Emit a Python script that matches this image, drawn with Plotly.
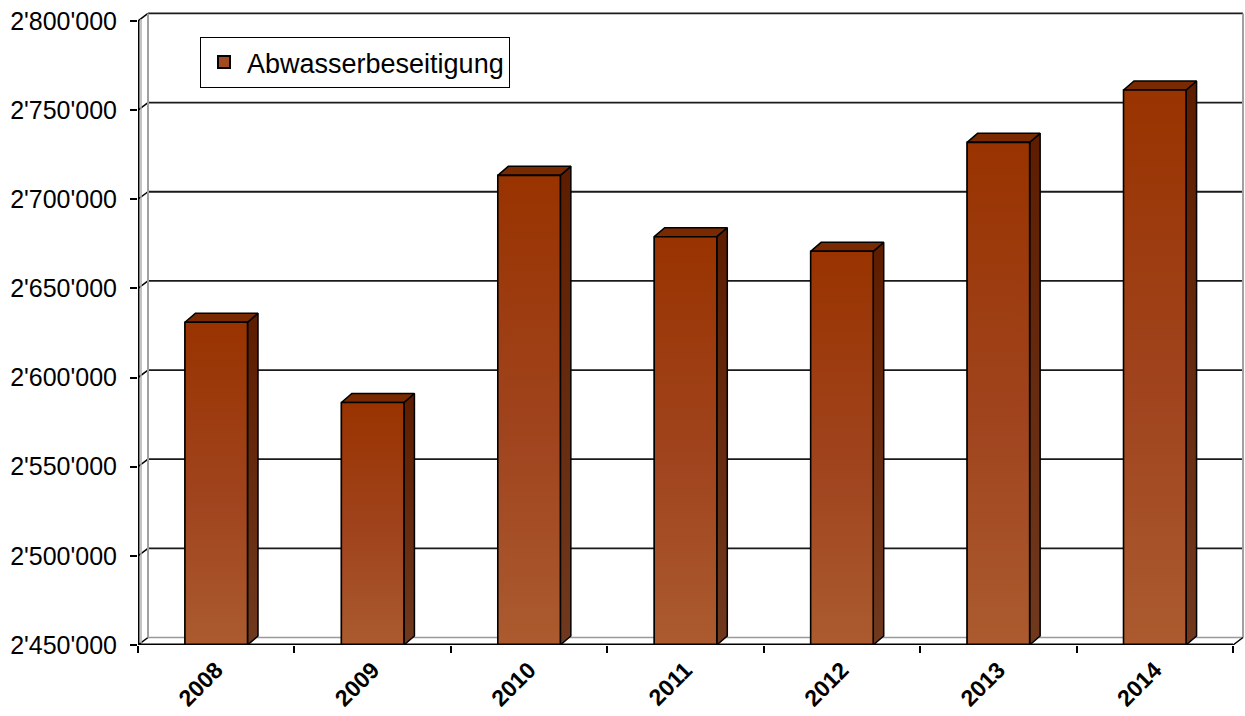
import plotly.graph_objects as go

# ---------------- data ----------------
years = ["2008", "2009", "2010", "2011", "2012", "2013", "2014"]
values = [2631000, 2586000, 2713400, 2679000, 2670800, 2731900, 2761300]
series_name = "Abwasserbeseitigung"
y_tick_values = [2450000, 2500000, 2550000, 2600000, 2650000, 2700000, 2750000, 2800000]
y_tick_labels = ["2'450'000", "2'500'000", "2'550'000", "2'600'000",
                 "2'650'000", "2'700'000", "2'750'000", "2'800'000"]

# ---------------- geometry / style ----------------
W, H = 1245, 716
M_L, M_R, M_T, M_B = 138, 0, 12, 71
Y0, YMAX = y_tick_values[0], y_tick_values[-1]
n = len(years)
idx = list(range(n))

plot_w = W - M_L - M_R
plot_h = H - M_T - M_B
px_per_x = 156.43                     # pixels per category
px_per_y = 1.783 / 1000.0             # pixels per unit value
x_lo = -0.5
x_hi = x_lo + plot_w / px_per_x
y_hi = Y0 + plot_h / px_per_y

def dx(px):
    return px / px_per_x

def dy(px):
    return px / px_per_y

WALL_DX, WALL_DY = dx(10), dy(7.5)    # 3D depth of the chart box
BAR_DX, BAR_DY = dx(10.5), dy(9)      # 3D depth of each column
BAR_W = 0.40

FONT = "Liberation Sans, Arial, sans-serif"
FRONT_SCALE = [[0.0, "#AB5B2F"], [0.45, "#A0441E"], [1.0, "#993300"]]
SIDE_SCALE = [[0.0, "#70391E"], [1.0, "#5E1D00"]]
TOP_COLOR = "#7A2A00"

fig = go.Figure()

# legend / base bar trace (covered by the shaded faces drawn on top)
fig.add_trace(go.Bar(
    x=idx, y=values, width=BAR_W, name=series_name,
    marker=dict(color="#A34A22", line=dict(color="black", width=1)),
    showlegend=True, hoverinfo="skip",
))

# ---- shaded 3D faces derived from the data values ----
for i, v in zip(idx, values):
    xl, xr = i - BAR_W / 2, i + BAR_W / 2
    # side face
    fig.add_trace(go.Scatter(
        x=[xr, xr + BAR_DX, xr + BAR_DX, xr, xr],
        y=[Y0, Y0 + BAR_DY, v + BAR_DY, v, Y0],
        mode="lines", fill="toself",
        fillgradient=dict(type="vertical", colorscale=SIDE_SCALE, start=Y0, stop=v),
        line=dict(color="black", width=1.5),
        showlegend=False, hoverinfo="skip",
    ))
    # top face
    fig.add_trace(go.Scatter(
        x=[xl, xl + BAR_DX, xr + BAR_DX, xr, xl],
        y=[v, v + BAR_DY, v + BAR_DY, v, v],
        mode="lines", fill="toself", fillcolor=TOP_COLOR,
        line=dict(color="black", width=1.5),
        showlegend=False, hoverinfo="skip",
    ))
    # front face
    fig.add_trace(go.Scatter(
        x=[xl, xr, xr, xl, xl],
        y=[Y0, Y0, v, v, Y0],
        mode="lines", fill="toself",
        fillgradient=dict(type="vertical", colorscale=FRONT_SCALE, start=Y0, stop=v),
        line=dict(color="black", width=1.6),
        showlegend=False, hoverinfo="skip",
    ))

# ---- chart box (walls, gridlines) as background shapes ----
shapes = []
xb0, xb1 = -0.5 + WALL_DX, (n - 0.5) + WALL_DX
for v in y_tick_values:
    shapes.append(dict(type="line", xref="x", yref="y", layer="below",
                       x0=-0.5, y0=v, x1=xb0, y1=v + WALL_DY,
                       line=dict(color="black", width=1.5)))
    shapes.append(dict(type="line", xref="x", yref="y", layer="below",
                       x0=xb0, y0=v + WALL_DY, x1=xb1, y1=v + WALL_DY,
                       line=dict(color="#9a9a9a" if v == Y0 else "#1a1a1a",
                                 width=1.5 if v == Y0 else 1.8)))
# back wall vertical edges
for xe in (xb0, xb1):
    shapes.append(dict(type="line", xref="x", yref="y", layer="below",
                       x0=xe, y0=Y0 + WALL_DY, x1=xe, y1=YMAX + WALL_DY,
                       line=dict(color="#a0a0a0", width=2)))
# left side wall inner line
shapes.append(dict(type="line", xref="x", yref="y", layer="below",
                   x0=-0.5 + dx(3), y0=Y0 + dy(2), x1=-0.5 + dx(3), y1=YMAX + dy(2),
                   line=dict(color="#b0b0b0", width=1.5)))
# floor right diagonal
shapes.append(dict(type="line", xref="x", yref="y", layer="below",
                   x0=n - 0.5, y0=Y0, x1=xb1, y1=Y0 + WALL_DY,
                   line=dict(color="black", width=1.5)))
# front y axis line and front floor edge (sit on the plot edge, half clipped)
shapes.append(dict(type="line", xref="x", yref="y", layer="above",
                   x0=-0.5, y0=Y0, x1=-0.5, y1=YMAX,
                   line=dict(color="black", width=3)))
shapes.append(dict(type="line", xref="x", yref="y", layer="above",
                   x0=-0.5, y0=Y0, x1=n - 0.5, y1=Y0,
                   line=dict(color="black", width=3)))

fig.update_layout(
    width=W, height=H,
    margin=dict(l=M_L, r=M_R, t=M_T, b=M_B, pad=0),
    paper_bgcolor="white", plot_bgcolor="white",
    font=dict(family=FONT, color="black"),
    shapes=shapes,
    showlegend=True,
    legend=dict(
        x=(200 - M_L) / plot_w, y=(H - M_B - 37) / plot_h,
        xanchor="left", yanchor="top",
        bgcolor="white", bordercolor="black", borderwidth=1,
        font=dict(family=FONT, size=27, color="black"),
        itemsizing="constant", itemwidth=36,
    ),
    xaxis=dict(
        range=[x_lo, x_hi], showgrid=False, zeroline=False, showline=False,
        tickmode="array", tickvals=idx, ticktext=years,
        ticks="", tickangle=-45, ticklabelstandoff=6,
        tickfont=dict(family=FONT, size=23, color="black", weight="bold"),
        minor=dict(tickmode="array", tickvals=[i - 0.5 for i in range(n + 1)],
                   ticks="outside", ticklen=7, tickwidth=1.5, tickcolor="black"),
        automargin=False, fixedrange=True,
    ),
    yaxis=dict(
        range=[Y0, y_hi], showgrid=False, zeroline=False, showline=False,
        tickmode="array", tickvals=y_tick_values, ticktext=y_tick_labels,
        ticks="outside", ticklen=7, tickwidth=1.5, tickcolor="black",
        ticklabelstandoff=8,
        tickfont=dict(family=FONT, size=25, color="black"),
        automargin=False, fixedrange=True,
    ),
)

fig.write_html("out.html")
